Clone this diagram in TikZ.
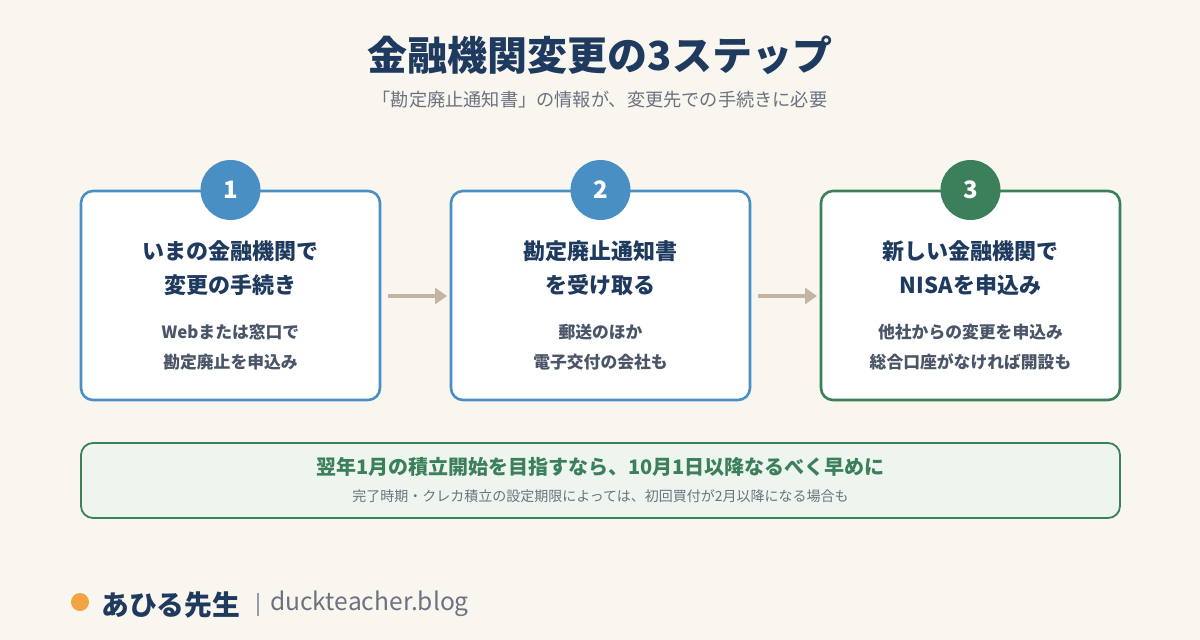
\documentclass[tikz,border=0pt]{standalone}
\usepackage{fontspec}
\setmainfont{Noto Sans CJK JP}
\usetikzlibrary{arrows.meta}
\definecolor{bg}{HTML}{F9F5EF}
\definecolor{navy}{HTML}{1F3A5F}
\definecolor{stepblue}{HTML}{4A8FC4}
\definecolor{stepgreen}{HTML}{3B7F5B}
\definecolor{descgray}{HTML}{4A5568}
\definecolor{subgray}{HTML}{6B7280}
\definecolor{arrowtan}{HTML}{C2B6A3}
\definecolor{notefill}{HTML}{EEF5EE}
\definecolor{dotorange}{HTML}{F2A444}
\newcommand{\fsz}[1]{\fontsize{#1}{#1}\selectfont}
\tikzset{
  stepbox/.style={draw=#1, line width=2.6pt, fill=white, rounded corners=12pt},
  stepnum/.style={circle, fill=#1, minimum size=60pt, inner sep=0pt, text=white, font=\fsz{24}\bfseries},
  boxtitle/.style={text=navy, font=\fsz{22}\bfseries, align=center},
  boxdesc/.style={text=descgray, font=\fsz{16.8}\bfseries, align=center},
  flowarrow/.style={draw=arrowtan, line width=3.5pt, -{Triangle[length=12pt,width=16pt]}},
}
\begin{document}
\begin{tikzpicture}[x=1pt,y=-1pt]
\fill[bg] (0,0) rectangle (1200,640);
\useasboundingbox (0,0) rectangle (1200,640);

\node[text=navy, font=\fsz{40}\bfseries] (title) at (600,55) {金融機関変更の3ステップ};
\node[text=subgray, font=\fsz{18.2}] (subtitle) at (600,100) {「勘定廃止通知書」の情報が、変更先での手続きに必要};

% boxes
\draw[stepbox=stepblue] (81,191) rectangle (380,400);
\draw[stepbox=stepblue] (451,191) rectangle (750,400);
\draw[stepbox=stepgreen] (821,191) rectangle (1120,400);
\coordinate (b1r) at (388,296);
\coordinate (b2l) at (447,296);
\coordinate (b2r) at (758,296);
\coordinate (b3l) at (817,296);

\node[stepnum=stepblue] (n1) at (230.5,190) {1};
\node[stepnum=stepblue] (n2) at (600.5,190) {2};
\node[stepnum=stepgreen] (n3) at (970.5,190) {3};

\node[boxtitle] (t1a) at (230.5,251) {いまの金融機関で};
\node[boxtitle] (t1b) at (230.5,285) {変更の手続き};
\node[boxdesc] (d1a) at (230.5,332) {Webまたは窓口で};
\node[boxdesc] (d1b) at (230.5,362) {勘定廃止を申込み};

\node[boxtitle] (t2a) at (600.5,251) {勘定廃止通知書};
\node[boxtitle] (t2b) at (600.5,285) {を受け取る};
\node[boxdesc] (d2a) at (600.5,332) {郵送のほか};
\node[boxdesc] (d2b) at (600.5,362) {電子交付の会社も};

\node[boxtitle] (t3a) at (970.5,251) {新しい金融機関で};
\node[boxtitle] (t3b) at (970.5,285) {NISAを申込み};
\node[boxdesc] (d3a) at (970.5,332) {他社からの変更を申込み};
\node[boxdesc] (d3b) at (970.5,362) {総合口座がなければ開設も};

\draw[flowarrow] (b1r) -- (b2l);
\draw[flowarrow] (b2r) -- (b3l);

% notice
\draw[draw=stepgreen, line width=1.8pt, fill=notefill, rounded corners=12pt] (81,443) rectangle (1120,518);
\node[text=stepgreen, font=\fsz{20}\bfseries] (note1) at (600.5,467) {翌年1月の積立開始を目指すなら、10月1日以降なるべく早めに};
\node[text=subgray, font=\fsz{14}] (note2) at (600.5,496) {完了時期・クレカ積立の設定期限によっては、初回買付が2月以降になる場合も};

% footer
\fill[dotorange] (80,602) circle (9);
\node[anchor=west, text=navy, font=\fsz{27.8}\bfseries, inner sep=0pt] (author) at (101,605) {あひる先生};
\draw[subgray!70, line width=1.3pt] (258,593) -- (258,616);
\node[anchor=west, text=subgray, font=\fsz{24.6}, inner sep=0pt] (url) at (270,604) {duckteacher.blog};
\end{tikzpicture}
\end{document}
